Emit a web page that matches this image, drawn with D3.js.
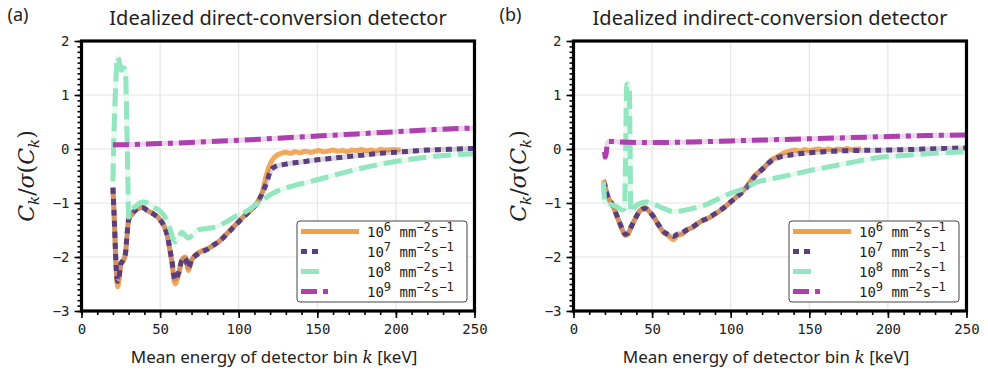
<!DOCTYPE html>
<html>
<head>
<meta charset="utf-8">
<script src="https://cdn.jsdelivr.net/npm/d3@7"></script>
<style>
  body { margin: 0; background: #fff; }
  svg { display: block; }
</style>
</head>
<body>
<svg id="chart" width="988" height="377"></svg>
<script>
// ---- data ----
var xTicks = [0, 50, 100, 150, 200, 250];
var yTicks = [-3, -2, -1, 0, 1, 2];
var fluxExp = ["6", "7", "8", "9"];
var titles = ["Idealized direct-conversion detector", "Idealized indirect-conversion detector"];
var panelTags = ["(a)", "(b)"];

var direct6 = [[20,-0.7],[21,-1.4],[22,-2.2],[23,-2.55],[24,-2.4],[25,-2.15],[26,-2.1],[27,-2.05],[28,-1.95],[29,-1.6],[30,-1.32],[32,-1.22],[34,-1.15],[36,-1.1],[39,-1.08],[42,-1.14],[46,-1.2],[50,-1.31],[54.3,-1.57],[57.4,-2.09],[59.5,-2.5],[61.7,-2.33],[64,-2.05],[66,-2.0],[68,-2.25],[70,-2.06],[75.5,-1.9],[80,-1.85],[84,-1.78],[88,-1.7],[93,-1.55],[98,-1.4],[103,-1.25],[108,-1.12],[112,-0.98],[115,-0.8],[117,-0.55],[119,-0.35],[121,-0.22],[124,-0.12],[127,-0.08],[130,-0.06],[133,-0.08],[136,-0.05],[139,-0.07],[142,-0.04],[145,-0.06],[148,-0.05],[151,-0.03],[154,-0.05],[157,-0.04],[160,-0.02],[163,-0.04],[166,-0.03],[169,-0.05],[172,-0.02],[175,-0.03],[178,-0.01],[181,-0.03],[184,-0.02],[187,-0.04],[190,-0.01],[194,-0.02],[198,-0.01],[203,-0.02]];
var direct7 = [[20,-0.72],[21,-1.4],[22,-2.15],[23,-2.45],[24,-2.35],[25,-2.12],[26,-2.08],[27,-2.02],[28,-1.92],[29,-1.58],[30,-1.3],[32,-1.2],[34,-1.14],[36,-1.1],[39,-1.09],[42,-1.14],[46,-1.21],[50,-1.31],[54.3,-1.57],[57.4,-2.05],[59.5,-2.42],[61.7,-2.3],[64,-2.05],[66,-2.02],[68,-2.2],[70,-2.06],[75.5,-1.92],[80,-1.86],[84,-1.78],[88,-1.7],[93,-1.56],[98,-1.41],[103,-1.26],[108,-1.12],[112,-0.99],[115,-0.82],[118,-0.6],[120,-0.42],[123,-0.33],[130,-0.28],[140,-0.24],[150,-0.2],[160,-0.17],[170,-0.14],[180,-0.11],[190,-0.08],[200,-0.06],[210,-0.04],[220,-0.02],[230,-0.01],[240,0.0],[250,0.01]];
var direct8 = [[20,-0.6],[20.5,0.1],[21.5,1.0],[22.5,1.6],[23,1.7],[24,1.62],[25.5,1.46],[27,1.5],[28,1.42],[28.8,0.5],[29.5,-0.6],[30,-1.26],[32,-1.13],[35,-1.05],[38.5,-0.98],[42,-1.0],[46,-1.08],[50,-1.15],[53,-1.25],[56,-1.46],[59.6,-1.72],[62,-1.62],[64,-1.54],[66,-1.6],[68,-1.65],[71,-1.58],[74,-1.5],[80,-1.47],[86,-1.44],[92,-1.35],[98,-1.25],[104,-1.17],[110,-1.05],[116,-0.93],[120,-0.85],[126,-0.76],[135,-0.68],[150,-0.57],[165,-0.45],[182,-0.33],[198,-0.24],[214,-0.17],[230,-0.12],[250,-0.09]];
var direct9 = [[20,0.08],[30,0.08],[40,0.09],[50,0.1],[60,0.11],[75,0.13],[100,0.16],[125,0.2],[150,0.24],[175,0.28],[200,0.32],[225,0.36],[250,0.39]];

var indirect6 = [[19,-0.57],[20,-0.65],[21,-0.8],[22,-0.88],[23,-0.95],[24.5,-1.0],[26,-1.12],[28.5,-1.31],[31,-1.5],[33,-1.6],[34.5,-1.58],[36,-1.5],[38.5,-1.34],[41,-1.19],[43,-1.12],[45.5,-1.08],[48,-1.15],[50.8,-1.25],[54,-1.4],[57,-1.54],[60,-1.6],[63.5,-1.68],[66,-1.6],[69,-1.58],[72,-1.5],[76,-1.45],[80.5,-1.35],[86,-1.28],[91,-1.19],[96,-1.08],[100,-0.98],[105,-0.85],[110.5,-0.68],[115,-0.5],[121,-0.35],[125,-0.22],[129.5,-0.14],[134,-0.07],[138,-0.04],[141,-0.02],[144,-0.04],[147,-0.01],[150,-0.03],[153,-0.01],[156,0.0],[159,-0.02],[162,0.0],[165,-0.02],[168,0.0],[171,-0.01],[174,0.01],[177,-0.01],[180,0.0],[183,0.0]];
var indirect7 = [[19,-0.6],[20,-0.68],[21,-0.8],[22,-0.9],[23,-0.96],[24.5,-1.02],[26,-1.12],[28.5,-1.3],[31,-1.48],[33,-1.58],[34.5,-1.56],[36,-1.48],[38.5,-1.33],[41,-1.2],[43,-1.13],[45.5,-1.1],[48,-1.15],[50.8,-1.25],[54,-1.4],[57,-1.52],[60,-1.58],[63.5,-1.62],[66,-1.58],[69,-1.55],[72,-1.5],[76,-1.44],[80.5,-1.35],[86,-1.27],[91,-1.18],[96,-1.08],[100,-0.98],[105,-0.86],[110.5,-0.7],[115,-0.52],[121,-0.35],[125,-0.24],[130,-0.16],[138,-0.11],[150,-0.07],[159,-0.05],[175,-0.03],[200,-0.02],[225,0.0],[250,0.02]];
var indirect8 = [[19,-0.6],[20,-0.98],[23,-1.02],[27.7,-1.07],[31,-1.13],[32.5,-1.1],[33.2,0.0],[33.8,1.19],[34.5,1.2],[35.5,1.15],[36,0.0],[36.5,-1.17],[39,-1.07],[43,-1.0],[46.7,-0.98],[51,-1.02],[55,-1.07],[60,-1.13],[63.5,-1.16],[70,-1.14],[76,-1.1],[85,-1.02],[93,-0.91],[100,-0.82],[106,-0.76],[112,-0.68],[117,-0.61],[125,-0.56],[138,-0.48],[150,-0.4],[159,-0.35],[175,-0.26],[191,-0.17],[210,-0.12],[230,-0.08],[250,-0.05]];
var indirect9 = [[19.8,-0.05],[20.2,-0.15],[20.8,-0.08],[21.5,0.1],[22.5,0.14],[30,0.13],[50,0.12],[75,0.13],[100,0.15],[125,0.17],[150,0.19],[175,0.21],[200,0.23],[225,0.25],[250,0.26]];

var panelSeries = [[direct6, direct7, direct8, direct9], [indirect6, indirect7, indirect8, indirect9]];

// ---- styles ----
var colors = ["#f0a04b", "#5a3e7d", "#93e6bf", "#ad3fae"];
var dashes = [null, "6,5", "18,7", "16,6,5,6"];
var legendLen = [58, 17, 20, 28];
var monoFont = "'DejaVu Sans Mono', monospace";
var sansFont = "'Noto Sans', 'Open Sans', sans-serif";
var serifFont = "'DejaVu Serif', 'Liberation Serif', serif";

var svg = d3.select("#chart");
var panelLeft = [81.5, 573.5];
var plotW = 393, plotTop = 41, plotBottom = 311;

panelLeft.forEach(function (left, p) {
    var x = d3.scaleLinear().domain([0, 250]).range([left, left + plotW]);
    var y = d3.scaleLinear().domain([-3, 2]).range([plotBottom, plotTop]);
    var g = svg.append("g");

    // grid
    g.selectAll(".gx").data(xTicks.slice(1, -1)).enter().append("line")
        .attr("x1", d => x(d)).attr("x2", d => x(d))
        .attr("y1", plotTop).attr("y2", plotBottom)
        .attr("stroke", "#e6e6e6").attr("stroke-width", 1.2);
    g.selectAll(".gy").data(yTicks.slice(1, -1)).enter().append("line")
        .attr("y1", d => y(d)).attr("y2", d => y(d))
        .attr("x1", left).attr("x2", left + plotW)
        .attr("stroke", "#e6e6e6").attr("stroke-width", 1.2);

    // clip
    svg.append("clipPath").attr("id", "clip" + p).append("rect")
        .attr("x", left).attr("y", plotTop).attr("width", plotW).attr("height", plotBottom - plotTop);

    var line = d3.line().x(d => x(d[0])).y(d => y(d[1])).curve(d3.curveMonotoneX);
    var lines = g.append("g").attr("clip-path", "url(#clip" + p + ")");

    panelSeries[p].forEach(function (s, i) {
        if (dashes[i]) {
            lines.append("path").datum(s).attr("d", line)
                .attr("fill", "none").attr("stroke", colors[i])
                .attr("stroke-opacity", 0.22).attr("stroke-width", 5)
                .attr("stroke-linejoin", "round");
        }
        lines.append("path").datum(s).attr("d", line)
            .attr("fill", "none").attr("stroke", colors[i])
            .attr("stroke-width", 5)
            .attr("stroke-opacity", i === 0 ? 0.9 : 1)
            .attr("stroke-linejoin", "round")
            .attr("stroke-dasharray", dashes[i]);
    });

    // axes
    var xAxis = d3.axisBottom(x).tickValues(xTicks).tickSize(7).tickPadding(6).tickFormat(d3.format("d"));
    var xMinor = d3.axisBottom(x).tickValues(d3.range(0, 251, 10)).tickSize(4).tickFormat("");
    var yAxis = d3.axisLeft(y).tickValues(yTicks).tickSize(7).tickPadding(5)
        .tickFormat(d => d < 0 ? "\u2212" + Math.abs(d) : d);
    var yMinor = d3.axisLeft(y).tickValues(d3.range(-30, 21).map(v => v / 10)).tickSize(4).tickFormat("");

    [xMinor, xAxis].forEach(function (a) {
        var ax = g.append("g").attr("transform", "translate(0," + plotBottom + ")").call(a);
        ax.select(".domain").remove();
        ax.selectAll("line").attr("stroke", "#000").attr("stroke-width", 1.6);
        ax.selectAll("text").attr("font-family", monoFont).attr("font-size", 14).attr("fill", "#222");
    });
    [yMinor, yAxis].forEach(function (a) {
        var ax = g.append("g").attr("transform", "translate(" + left + ",0)").call(a);
        ax.select(".domain").remove();
        ax.selectAll("line").attr("stroke", "#000").attr("stroke-width", 1.6);
        ax.selectAll("text").attr("font-family", monoFont).attr("font-size", 14).attr("fill", "#222");
    });

    // frame
    g.append("rect").attr("x", left).attr("y", plotTop).attr("width", plotW).attr("height", plotBottom - plotTop)
        .attr("fill", "none").attr("stroke", "#000").attr("stroke-width", 3.2);

    // title and tag
    g.append("text").attr("x", left + plotW / 2).attr("y", 25).attr("text-anchor", "middle")
        .attr("font-family", sansFont).attr("font-size", 20).attr("fill", "#222").text(titles[p]);
    g.append("text").attr("x", left - 74).attr("y", 21)
        .attr("font-family", sansFont).attr("font-size", 18).attr("fill", "#222").text(panelTags[p]);

    // x label
    var xl = g.append("text").attr("x", left + plotW / 2 - 4).attr("y", 363).attr("text-anchor", "middle")
        .attr("font-family", sansFont).attr("font-size", 17).attr("fill", "#222");
    xl.append("tspan").text("Mean energy of detector bin ");
    xl.append("tspan").attr("font-family", serifFont).attr("font-style", "italic").text("k");
    xl.append("tspan").text(" [keV]");

    // y label
    var yl = g.append("text").attr("transform", "translate(" + (left - 48) + "," + ((plotTop + plotBottom) / 2) + ") rotate(-90)")
        .attr("text-anchor", "middle").attr("font-family", serifFont).attr("font-size", 22).attr("fill", "#222");
    yl.append("tspan").attr("font-style", "italic").text("C");
    yl.append("tspan").attr("font-style", "italic").attr("font-size", 15).attr("dy", 5).text("k");
    yl.append("tspan").attr("dy", -5).text("/");
    yl.append("tspan").attr("font-style", "italic").text("\u03c3");
    yl.append("tspan").text("(");
    yl.append("tspan").attr("font-style", "italic").text("C");
    yl.append("tspan").attr("font-style", "italic").attr("font-size", 15).attr("dy", 5).text("k");
    yl.append("tspan").attr("dy", -5).text(")");

    // legend
    var lx = left + 215.5, ly = 221;
    var leg = g.append("g");
    leg.append("rect").attr("x", lx).attr("y", ly).attr("width", 170).attr("height", 81)
        .attr("rx", 3).attr("fill", "#fff").attr("fill-opacity", 0.9)
        .attr("stroke", "#444").attr("stroke-width", 1);
    fluxExp.forEach(function (e, i) {
        var ry = ly + 10.5 + i * 20;
        leg.append("line").attr("x1", lx + 4).attr("x2", lx + 4 + legendLen[i]).attr("y1", ry).attr("y2", ry)
            .attr("stroke", colors[i]).attr("stroke-width", 5).attr("stroke-dasharray", dashes[i]);
        var t = leg.append("text").attr("x", lx + 70).attr("y", ry + 5)
            .attr("font-family", monoFont).attr("font-size", 14).attr("fill", "#222");
        t.append("tspan").text("10");
        t.append("tspan").attr("font-size", 12).attr("dy", -6).text(e);
        t.append("tspan").attr("dy", 6).text(" mm");
        t.append("tspan").attr("font-size", 12).attr("dy", -6).text("\u22122");
        t.append("tspan").attr("dy", 6).text("s");
        t.append("tspan").attr("font-size", 12).attr("dy", -6).text("\u22121");
    });
});
</script>
</body>
</html>
